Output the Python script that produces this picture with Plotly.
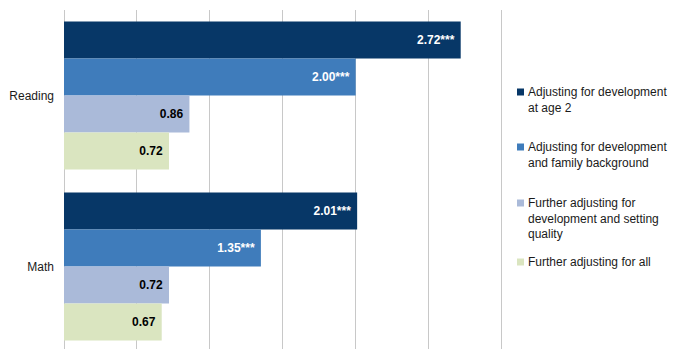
import plotly.graph_objects as go

categories = ["Reading", "Math"]
series_names = [
    "Adjusting for development<br>at age 2",
    "Adjusting for development<br>and family background",
    "Further adjusting for<br>development and setting<br>quality",
    "Further adjusting for all",
]
reading_values = [2.72, 2.00, 0.86, 0.72]
math_values = [2.01, 1.35, 0.72, 0.67]
reading_sig = ["***", "***", "", ""]
math_sig = ["***", "***", "", ""]
colors = ["#073767", "#3F7CBB", "#AABAD9", "#DAE5C0"]
label_colors = ["white", "white", "black", "black"]

W, H = 677, 349
ML, MR, MT, MB = 64, 174, 10, 0
PW, PH = W - ML - MR, H - MT - MB

FONT = "Liberation Sans, Arial, sans-serif"

fig = go.Figure()
for i, name in enumerate(series_names):
    vals = [reading_values[i], math_values[i]]
    sigs = [reading_sig[i], math_sig[i]]
    texts = [f"{v:.2f}{s} " for v, s in zip(vals, sigs)]
    fig.add_trace(go.Bar(
        y=categories, x=vals, orientation="h", name=name.replace("<br>", " "),
        marker=dict(color=colors[i], line=dict(width=0)),
        text=texts, textposition="inside", insidetextanchor="end", textangle=0,
        constraintext="none",
        textfont=dict(family=FONT, size=12, color=label_colors[i], weight="bold"),
        showlegend=False, hoverinfo="x+y",
    ))

# custom legend (matching the reference layout)
def px_x(p):
    return (p - ML) / PW

def px_y(p):
    return (H - MB - p) / PH

legend_first_line_y = [92, 147, 203, 262]
for i, name in enumerate(series_names):
    cy = legend_first_line_y[i]
    fig.add_shape(type="rect", xref="paper", yref="paper",
                  x0=px_x(517), x1=px_x(524), y0=px_y(cy + 3.5), y1=px_y(cy - 3.5),
                  fillcolor=colors[i], line=dict(width=0))
    fig.add_annotation(xref="paper", yref="paper", x=px_x(526), y=px_y(cy - 9),
                       xanchor="left", yanchor="top", align="left", showarrow=False,
                       text=name, font=dict(family=FONT, size=12, color="#1a1a1a"))

fig.update_layout(
    width=W, height=H,
    margin=dict(l=ML, r=MR, t=MT, b=MB, pad=0),
    paper_bgcolor="white", plot_bgcolor="white",
    barmode="group", bargap=0.135, bargroupgap=0,
    font=dict(family=FONT, size=12, color="#1a1a1a"),
    xaxis=dict(range=[0, 3.01], dtick=0.5, tick0=0, showticklabels=False,
               showgrid=True, gridcolor="#C8C8C8", gridwidth=1,
               zeroline=True, zerolinecolor="#C8C8C8", zerolinewidth=1,
               showline=False, ticks=""),
    yaxis=dict(type="category", categoryorder="array", categoryarray=categories,
               range=[-0.5 + PH / 171.0, -0.5], showgrid=False, zeroline=False,
               showline=False, ticks="", ticklabelstandoff=9,
               tickfont=dict(family=FONT, size=12, color="#1a1a1a")),
)

fig.write_html("out.html")
